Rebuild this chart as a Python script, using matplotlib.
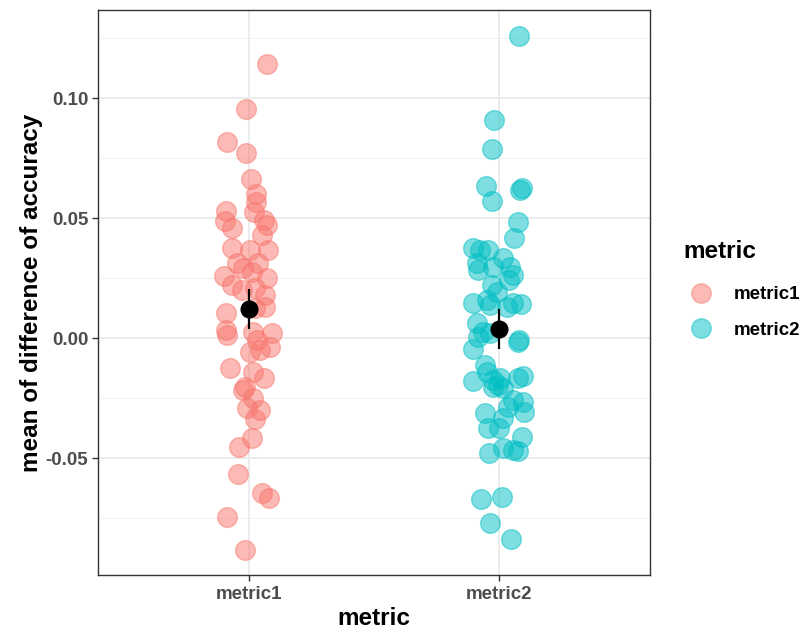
import matplotlib
matplotlib.use("Agg")
import matplotlib.pyplot as plt
from matplotlib.lines import Line2D
import numpy as np

plt.rcParams['font.family'] = ['Liberation Sans', 'DejaVu Sans']

categories = ["metric1", "metric2"]
colors = ["#F8766D", "#00BFC4"]

# per-point values (y) and measured horizontal jitter offsets
metric1_y = [0.1142, 0.0954, 0.0817, 0.0771, 0.0663, 0.0600, 0.0567, 0.0525, 0.0529, 0.0492,
             0.0488, 0.0458, 0.0429, 0.0471, 0.0375, 0.0367, 0.0367, 0.0313, 0.0313, 0.0292,
             0.0258, 0.0275, 0.0250, 0.0221, 0.0200, 0.0208, 0.0179, 0.0125, 0.0129, 0.0104,
             0.0033, 0.0013, 0.0025, 0.0021, -0.0008, -0.0038, -0.0058, -0.0050, -0.0125, -0.0142,
             -0.0167, -0.0204, -0.0217, -0.0250, -0.0292, -0.0300, -0.0338, -0.0417, -0.0454, -0.0567,
             -0.0646, -0.0667, -0.0746, -0.0883]
metric1_jitter = [0.072, -0.012, -0.084, -0.012, 0.008, 0.028, 0.028, 0.020, -0.088, 0.060,
                  -0.092, -0.064, 0.052, 0.072, -0.064, 0.004, 0.076, -0.048, 0.036, -0.024,
                  -0.096, 0.012, 0.072, -0.064, -0.028, 0.024, 0.064, 0.024, 0.064, -0.088,
                  -0.088, -0.084, 0.016, 0.092, 0.032, 0.084, 0.004, 0.044, -0.072, 0.016,
                  0.060, -0.016, -0.024, 0.016, -0.008, 0.044, 0.024, 0.012, -0.040, -0.044,
                  0.052, 0.080, -0.084, -0.016]

metric2_y = [0.1258, 0.0908, 0.0788, 0.0633, 0.0571, 0.0617, 0.0625, 0.0483, 0.0417, 0.0375,
             0.0367, 0.0367, 0.0313, 0.0283, 0.0296, 0.0333, 0.0296, 0.0263, 0.0242, 0.0221,
             0.0192, 0.0158, 0.0146, 0.0138, 0.0129, 0.0146, 0.0142, 0.0063, 0.0025, 0.0004,
             0.0021, -0.0046, -0.0017, -0.0008, -0.0113, -0.0142, -0.0179, -0.0175, -0.0167, -0.0196,
             -0.0204, -0.0208, -0.0167, -0.0158, -0.0258, -0.0267, -0.0308, -0.0288, -0.0313, -0.0333,
             -0.0375, -0.0375, -0.0413, -0.0458, -0.0467, -0.0471, -0.0479, -0.0671, -0.0663, -0.0771,
             -0.0838]
metric2_jitter = [0.076, -0.020, -0.028, -0.052, -0.028, 0.080, 0.088, 0.072, 0.056, -0.104,
                  -0.076, -0.044, -0.088, -0.084, -0.024, 0.016, 0.044, 0.052, 0.040, -0.028,
                  -0.008, -0.048, -0.104, -0.036, 0.032, 0.052, 0.084, -0.088, -0.064, -0.084,
                  -0.036, -0.104, 0.072, 0.076, -0.056, -0.048, -0.104, -0.024, 0.004, -0.004,
                  -0.024, 0.016, 0.072, 0.092, 0.052, 0.092, 0.096, 0.036, -0.056, 0.016,
                  -0.044, 0.000, 0.088, 0.016, 0.052, 0.072, -0.040, -0.072, 0.012, -0.036,
                  0.048]

summary_mean = [0.0121, 0.0038]
summary_err = [0.0083, 0.0083]

yticks = [-0.05, 0.0, 0.05, 0.10]
ytick_labels = ["-0.05", "0.00", "0.05", "0.10"]
yminor = [-0.075, -0.025, 0.025, 0.075, 0.125]

fig = plt.figure(figsize=(8.05, 6.32), dpi=100)
ax = fig.add_axes([98/805, 1-575/632, (650-98)/805, (575-10)/632])

ax.set_xlim(0.4, 2.6)
ax.set_ylim(-0.09875, 0.13667)

# grid
for yv in yminor:
    ax.axhline(yv, color="#F2F2F2", lw=0.7, zorder=0)
for yv in yticks:
    ax.axhline(yv, color="#EBEBEB", lw=1.3, zorder=0)
for xv in [1, 2]:
    ax.axvline(xv, color="#EBEBEB", lw=1.3, zorder=0)

series = [(metric1_y, metric1_jitter), (metric2_y, metric2_jitter)]
for i, (ys, js) in enumerate(series):
    xs = np.array(js) + (i + 1)
    ax.scatter(xs, ys, s=200, color=colors[i], alpha=0.5, edgecolors=colors[i],
               linewidths=1.0, zorder=2)

ax.errorbar([1, 2], summary_mean, yerr=summary_err, fmt='o', color='black',
            markersize=12, elinewidth=1.6, capsize=0, zorder=3)

ax.set_xticks([1, 2])
ax.set_xticklabels(categories)
ax.set_yticks(yticks)
ax.set_yticklabels(ytick_labels)
ax.tick_params(axis='both', length=4, width=1, color="#333333", labelcolor="#4D4D4D",
               labelsize=13.5, pad=3)
ax.tick_params(axis='x', pad=4)
for lab in ax.get_xticklabels() + ax.get_yticklabels():
    lab.set_fontweight('bold')
for sp in ax.spines.values():
    sp.set_color("#333333")
    sp.set_linewidth(1.0)

ax.set_xlabel("metric", fontsize=17.5, fontweight='bold', labelpad=3)
ax.set_ylabel("mean of difference of accuracy", fontsize=17.5, fontweight='bold', labelpad=2)

# legend
fig.text(683/805, 1-252/632, "metric", fontsize=17.5, fontweight='bold',
         ha='left', va='center')
handles = [Line2D([0], [0], marker='o', linestyle='none', markersize=14,
                  markerfacecolor=c, markeredgecolor=c, alpha=0.5) for c in colors]
leg = fig.legend(handles, categories, loc='upper left',
                 bbox_to_anchor=(682/805, 1-286/632), frameon=False,
                 prop={'weight': 'bold', 'size': 13.5},
                 handletextpad=0.75, labelspacing=1.0, borderaxespad=0,
                 borderpad=0, handlelength=2.0)

fig.savefig("out.png", dpi=100)
